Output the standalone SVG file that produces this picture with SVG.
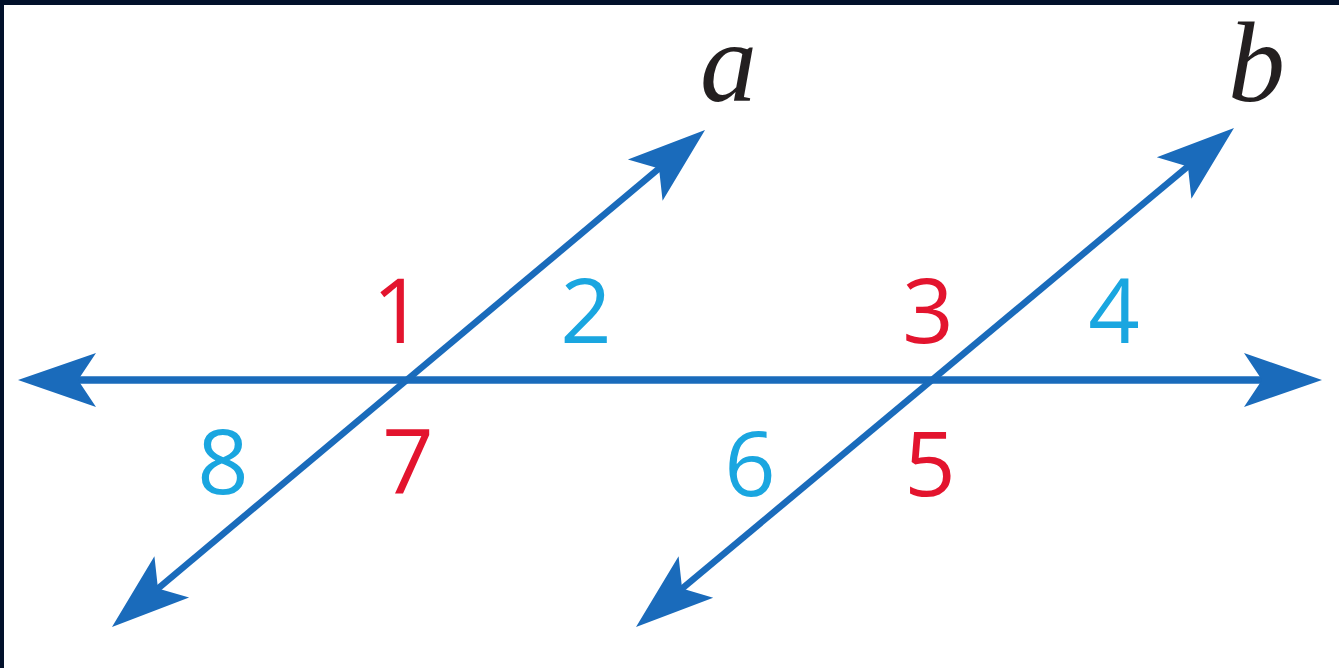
<svg xmlns="http://www.w3.org/2000/svg" width="1339" height="668" viewBox="0 0 1339 668">
  <style>
    .ln { stroke: #1a6bbb; stroke-width: 6.5; fill: none; marker-start: url(#arr); marker-end: url(#arr); }
    .hz { stroke-width: 7.5; }
    .num { font-family: "Open Sans", "Liberation Sans", sans-serif; font-size: 90px; text-anchor: middle; }
    .red { fill: #e3142e; }
    .cyan { fill: #1aa6e0; }
    .var { font-family: "Liberation Serif", serif; font-style: italic; font-size: 114px; fill: #231f20; }
  </style>
  <defs>
    <marker id="arr" markerUnits="userSpaceOnUse" viewBox="-80 -30 82 60" markerWidth="82" markerHeight="60" refX="-50" refY="0" orient="auto-start-reverse">
      <path d="M0,0 L-78,-27 L-60,0 L-78,27 Z" fill="#1a6bbb"/>
    </marker>
  </defs>
  <rect x="0" y="0" width="1339" height="668" fill="#ffffff"/>
  <rect x="0" y="0" width="1339" height="5" fill="#02112b"/>
  <rect x="0" y="0" width="4" height="668" fill="#02112b"/>
  <g id="connectors">
    <line class="ln hz" x1="68" y1="380" x2="1272" y2="380"/>
    <line class="ln" x1="150.3" y1="594.9" x2="666.7" y2="162.1"/>
    <line class="ln" x1="674.4" y1="595" x2="1195.6" y2="160"/>
  </g>
  <g id="label-a"><text class="var" x="700" y="101">a</text></g>
  <g id="label-b"><text class="var" x="1228" y="101">b</text></g>
  <g id="angle-1"><text class="num red" x="398" y="343">1</text></g>
  <g id="angle-2"><text class="num cyan" x="586" y="343">2</text></g>
  <g id="angle-3"><text class="num red" x="928" y="343">3</text></g>
  <g id="angle-4"><text class="num cyan" x="1114" y="343">4</text></g>
  <g id="angle-5"><text class="num red" x="930" y="496">5</text></g>
  <g id="angle-6"><text class="num cyan" x="750" y="496">6</text></g>
  <g id="angle-7"><text class="num red" x="408" y="494">7</text></g>
  <g id="angle-8"><text class="num cyan" x="223" y="494">8</text></g>
</svg>
